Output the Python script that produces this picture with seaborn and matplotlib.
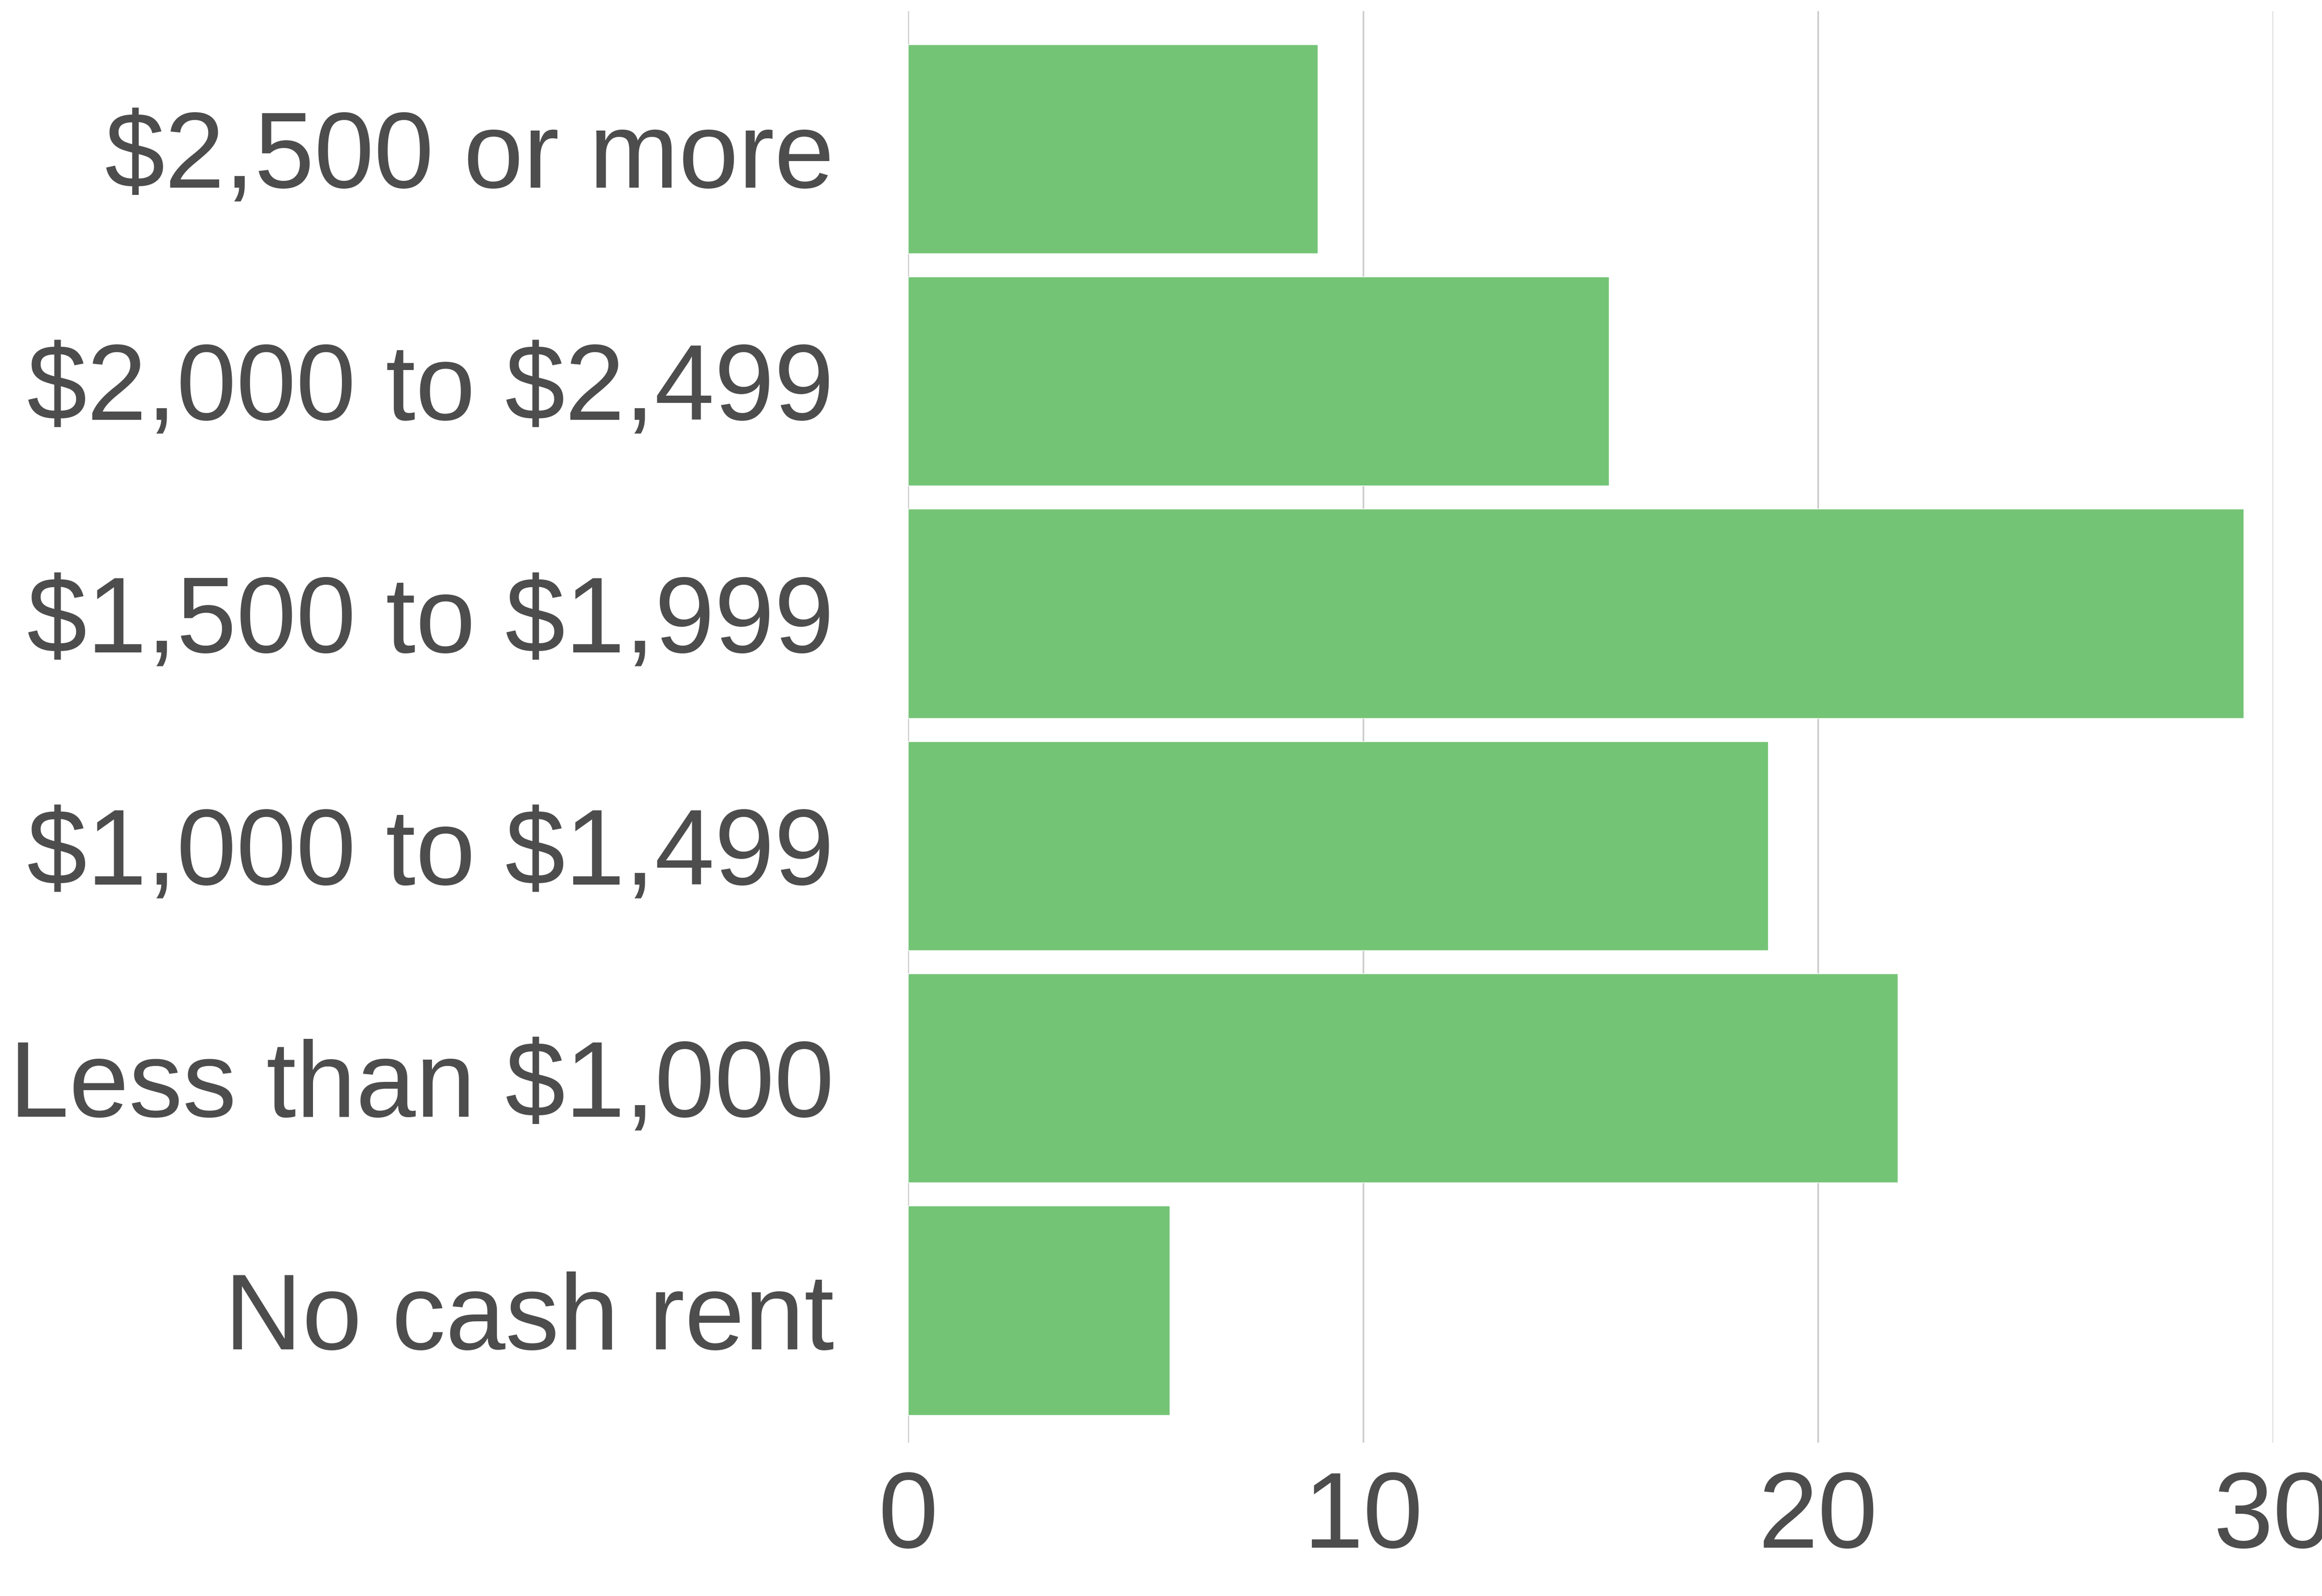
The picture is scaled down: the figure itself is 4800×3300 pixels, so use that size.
import matplotlib.pyplot as plt
import pandas as pd
import seaborn as sns

categories = ['$2,500 or more', '$2,000 to $2,499', '$1,500 to $1,999',
              '$1,000 to $1,499', 'Less than $1,000', 'No cash rent']
values = [9.0, 15.4, 29.35, 18.9, 21.75, 5.75]
ticks = [0, 10, 20, 30]

df = pd.DataFrame({'rent': categories, 'pct': values})

sns.set_theme(style='white')
plt.rcParams['font.family'] = ['Liberation Sans', 'DejaVu Sans']
plt.rcParams['text.parse_math'] = False

fig = plt.figure(figsize=(48, 33), dpi=100)
ax = fig.add_axes([0.391, 0.096, 0.588, 0.897])
sns.barplot(data=df, x='pct', y='rent', color='#74c476', saturation=1,
            width=0.9, ax=ax, zorder=2)
ax.set_xlim(0, 30)
ax.set_ylim(5.57, -0.593)
ax.set_xticks(ticks)
ax.grid(axis='x', color='#cccccc', linewidth=2.5, zorder=0)
ax.set_axisbelow(True)
for s in ax.spines.values():
    s.set_visible(False)
ax.tick_params(axis='both', length=0, labelsize=160, labelcolor='#4d4d4d')
ax.tick_params(axis='y', pad=110)
ax.tick_params(axis='x', pad=40)
ax.set_xlabel('')
ax.set_ylabel('')
fig.savefig('out.png')
